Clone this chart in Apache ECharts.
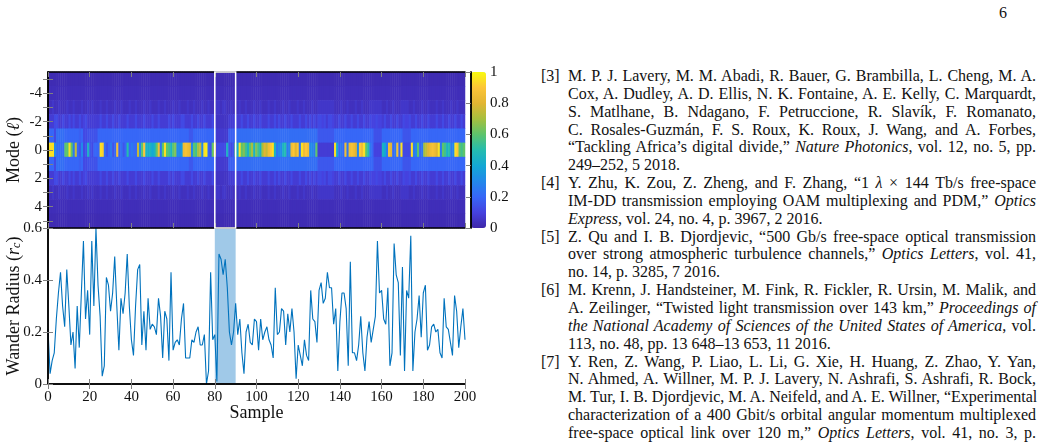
<!DOCTYPE html>
<html>
<head>
<meta charset="utf-8">
<script src="https://cdn.jsdelivr.net/npm/echarts@6/dist/echarts.min.js"></script>
<style>
  html, body { margin: 0; padding: 0; background: #fff; }
  #page { position: relative; width: 1043px; height: 446px; overflow: hidden; }
  #chart { position: absolute; left: 0; top: 0; width: 520px; height: 446px; }
  #refs { position: absolute; left: 541px; top: 67px; width: 495px; font-family: "Liberation Serif", serif; font-size: 16px; line-height: 17.85px; color: #111; }
  .ref { position: relative; padding-left: 27px; }
  .num { position: absolute; left: 0; top: 0; }
  .ln { text-align: justify; text-align-last: justify; white-space: nowrap; }
  .last { text-align: left; text-align-last: left; }
  #pnum { position: absolute; left: 999px; top: 4px; font-family: "Liberation Serif", serif; font-size: 16px; color: #111; }
</style>
</head>
<body>
<div id="page">
  <div id="chart"></div>
  <div id="pnum">6</div>
  <div id="refs">
    <div class="ref"><span class="num">[3]</span>
      <div class="ln">M. P. J. Lavery, M. M. Abadi, R. Bauer, G. Brambilla, L. Cheng, M. A.</div>
      <div class="ln">Cox, A. Dudley, A. D. Ellis, N. K. Fontaine, A. E. Kelly, C. Marquardt,</div>
      <div class="ln">S. Matlhane, B. Ndagano, F. Petruccione, R. Slavík, F. Romanato,</div>
      <div class="ln">C. Rosales-Guzmán, F. S. Roux, K. Roux, J. Wang, and A. Forbes,</div>
      <div class="ln">“Tackling Africa’s digital divide,” <i>Nature Photonics</i>, vol. 12, no. 5, pp.</div>
      <div class="ln last">249–252, 5 2018.</div>
    </div>
    <div class="ref"><span class="num">[4]</span>
      <div class="ln">Y. Zhu, K. Zou, Z. Zheng, and F. Zhang, “1 <i>λ</i> × 144 Tb/s free-space</div>
      <div class="ln">IM-DD transmission employing OAM multiplexing and PDM,” <i>Optics</i></div>
      <div class="ln last"><i>Express</i>, vol. 24, no. 4, p. 3967, 2 2016.</div>
    </div>
    <div class="ref"><span class="num">[5]</span>
      <div class="ln">Z. Qu and I. B. Djordjevic, “500 Gb/s free-space optical transmission</div>
      <div class="ln">over strong atmospheric turbulence channels,” <i>Optics Letters</i>, vol. 41,</div>
      <div class="ln last">no. 14, p. 3285, 7 2016.</div>
    </div>
    <div class="ref"><span class="num">[6]</span>
      <div class="ln">M. Krenn, J. Handsteiner, M. Fink, R. Fickler, R. Ursin, M. Malik, and</div>
      <div class="ln">A. Zeilinger, “Twisted light transmission over 143 km,” <i>Proceedings of</i></div>
      <div class="ln"><i>the National Academy of Sciences of the United States of America</i>, vol.</div>
      <div class="ln last">113, no. 48, pp. 13 648–13 653, 11 2016.</div>
    </div>
    <div class="ref"><span class="num">[7]</span>
      <div class="ln">Y. Ren, Z. Wang, P. Liao, L. Li, G. Xie, H. Huang, Z. Zhao, Y. Yan,</div>
      <div class="ln">N. Ahmed, A. Willner, M. P. J. Lavery, N. Ashrafi, S. Ashrafi, R. Bock,</div>
      <div class="ln">M. Tur, I. B. Djordjevic, M. A. Neifeld, and A. E. Willner, “Experimental</div>
      <div class="ln">characterization of a 400 Gbit/s orbital angular momentum multiplexed</div>
      <div class="ln">free-space optical link over 120 m,” <i>Optics Letters</i>, vol. 41, no. 3, p.</div>
    </div>
  </div>
</div>
<script>
// ---------------- DATA ----------------
const modeLabels = ['-5','-4','-3','-2','-1','0','1','2','3','4','5'];
const modeTickLabels = ['-4','-2','0','2','4'];
const xTickLabels = [0,20,40,60,80,100,120,140,160,180,200];
const radiusTickLabels = [0,0.2,0.4,0.6];
const colorbarTickLabels = [0,0.2,0.4,0.6,0.8,1];
const highlightRange = [80, 90];

// Wander radius (r_c) for samples 0..200
const wanderRadius = [
0.21,0.04,0.09,0.12,0.25,0.35,0.43,0.30,0.22,0.44,
0.30,0.15,0.20,0.06,0.30,0.14,0.35,0.55,0.25,0.36,
0.19,0.55,0.30,0.60,0.38,0.26,0.03,0.07,0.41,0.38,
0.28,0.35,0.49,0.30,0.13,0.33,0.27,0.35,0.50,0.30,
0.17,0.11,0.30,0.44,0.46,0.15,0.28,0.13,0.33,0.21,
0.23,0.22,0.19,0.33,0.26,0.10,0.28,0.25,0.09,0.43,
0.13,0.16,0.17,0.15,0.25,0.31,0.10,0.10,0.10,0.17,
0.16,0.20,0.22,0.15,0.15,0.19,0.00,0.05,0.43,0.17,
0.19,0.01,0.50,0.48,0.42,0.48,0.37,0.20,0.15,0.20,
0.31,0.19,0.25,0.12,0.04,0.20,0.23,0.16,0.15,0.25,
0.24,0.13,0.25,0.17,0.20,0.22,0.17,0.15,0.10,0.37,
0.19,0.20,0.29,0.28,0.15,0.27,0.20,0.29,0.20,0.02,
0.15,0.11,0.07,0.17,0.11,0.09,0.36,0.25,0.24,0.16,
0.36,0.39,0.31,0.33,0.43,0.37,0.37,0.23,0.29,0.05,
0.24,0.35,0.35,0.29,0.07,0.47,0.12,0.12,0.09,0.15,
0.26,0.12,0.05,0.18,0.24,0.16,0.21,0.26,0.55,0.35,
0.36,0.25,0.23,0.37,0.07,0.12,0.54,0.42,0.39,0.11,
0.45,0.05,0.36,0.33,0.57,0.05,0.20,0.25,0.34,0.18,
0.35,0.38,0.13,0.15,0.22,0.23,0.20,0.21,0.12,0.10,
0.33,0.22,0.21,0.16,0.11,0.34,0.28,0.14,0.22,0.29,
0.17
];

// Normalised power in mode 0 for samples 0..200
const powerMode0 = [
0.95,0.95,0.95,0.30,0.22,0.22,0.22,0.22,0.60,0.60,
0.95,0.60,0.25,0.75,0.20,0.15,0.30,0.12,0.15,0.45,
0.15,0.12,0.20,0.20,0.20,0.95,0.92,0.22,0.15,0.20,
0.25,0.15,0.20,0.85,0.18,0.22,0.15,0.20,0.50,0.20,
0.25,0.22,0.20,0.75,0.30,0.60,0.90,0.45,0.42,0.45,
0.40,0.45,0.60,0.85,0.25,0.60,0.95,0.60,0.55,0.45,
0.60,0.65,0.30,0.30,0.35,0.85,0.88,0.85,0.82,0.30,
0.60,0.55,0.70,0.75,0.30,0.95,0.98,0.20,0.15,0.60,
0.90,0.12,0.12,0.12,0.12,0.12,0.45,0.15,0.12,0.15,
0.60,0.40,0.95,0.60,0.65,0.55,0.45,0.60,0.70,0.45,
0.65,0.55,0.45,0.70,0.80,0.75,0.85,0.90,0.95,0.45,
0.25,0.30,0.30,0.45,0.50,0.25,0.30,0.85,0.90,0.80,
0.88,0.25,0.95,0.85,0.90,0.85,0.30,0.30,0.25,0.60,
0.08,0.08,0.08,0.08,0.08,0.08,0.08,0.08,0.95,0.40,
0.20,0.25,0.20,0.85,0.25,0.85,0.88,0.85,0.80,0.30,
0.90,0.85,0.95,0.60,0.50,0.25,0.20,0.10,0.10,0.10,
0.10,0.45,0.40,0.25,0.85,0.80,0.20,0.25,0.85,0.20,
0.95,0.12,0.12,0.12,0.12,0.95,0.25,0.30,0.60,0.20,
0.25,0.70,0.75,0.80,0.85,0.88,0.85,0.80,0.95,0.25,
0.60,0.55,0.45,0.50,0.25,0.30,0.95,0.90,0.60,0.55,
0.60
];

// Power in modes +/-1
const powerMode1 = [
0.20,0.20,0.20,0.12,0.22,0.22,0.22,0.22,0.20,0.20,
0.20,0.20,0.20,0.20,0.20,0.18,0.20,0.12,0.12,0.14,
0.14,0.14,0.14,0.14,0.20,0.20,0.20,0.20,0.20,0.20,
0.20,0.20,0.20,0.20,0.20,0.20,0.20,0.20,0.20,0.20,
0.20,0.20,0.20,0.20,0.20,0.20,0.20,0.20,0.20,0.20,
0.20,0.20,0.20,0.20,0.20,0.20,0.20,0.20,0.20,0.20,
0.20,0.20,0.20,0.20,0.20,0.20,0.20,0.20,0.16,0.16,
0.20,0.20,0.20,0.20,0.20,0.20,0.20,0.20,0.20,0.20,
0.20,0.07,0.07,0.07,0.07,0.07,0.07,0.18,0.18,0.18,
0.18,0.22,0.22,0.22,0.22,0.22,0.22,0.22,0.22,0.22,
0.22,0.22,0.22,0.22,0.22,0.22,0.22,0.22,0.22,0.22,
0.22,0.22,0.22,0.22,0.22,0.22,0.22,0.22,0.22,0.22,
0.22,0.22,0.22,0.22,0.22,0.22,0.22,0.22,0.22,0.22,
0.16,0.16,0.16,0.16,0.16,0.16,0.16,0.16,0.20,0.20,
0.20,0.20,0.20,0.20,0.20,0.20,0.20,0.20,0.20,0.20,
0.20,0.20,0.20,0.20,0.20,0.20,0.20,0.14,0.14,0.14,
0.14,0.20,0.20,0.20,0.20,0.20,0.20,0.20,0.20,0.20,
0.20,0.15,0.15,0.15,0.15,0.20,0.20,0.20,0.20,0.20,
0.20,0.20,0.20,0.20,0.20,0.20,0.20,0.20,0.20,0.20,
0.20,0.20,0.20,0.20,0.20,0.20,0.20,0.20,0.20,0.20,
0.20
];

// Power in modes +/-2
const powerMode2 = [
0.08,0.08,0.08,0.12,0.12,0.08,0.08,0.12,0.08,0.08,
0.12,0.08,0.12,0.08,0.08,0.12,0.08,0.10,0.12,0.08,
0.08,0.08,0.08,0.08,0.08,0.12,0.08,0.08,0.12,0.08,
0.08,0.12,0.08,0.08,0.12,0.08,0.08,0.08,0.12,0.08,
0.08,0.08,0.12,0.08,0.08,0.08,0.12,0.08,0.08,0.08,
0.12,0.08,0.08,0.12,0.08,0.08,0.08,0.08,0.12,0.08,
0.12,0.08,0.08,0.08,0.12,0.12,0.08,0.08,0.08,0.12,
0.08,0.08,0.12,0.08,0.08,0.12,0.08,0.08,0.08,0.12,
0.08,0.05,0.05,0.05,0.05,0.05,0.05,0.08,0.08,0.08,
0.12,0.08,0.08,0.12,0.08,0.08,0.12,0.08,0.08,0.12,
0.08,0.08,0.12,0.08,0.08,0.08,0.12,0.08,0.08,0.12,
0.08,0.12,0.08,0.08,0.12,0.08,0.08,0.12,0.08,0.08,
0.08,0.12,0.08,0.08,0.12,0.08,0.12,0.08,0.12,0.08,
0.12,0.12,0.10,0.12,0.08,0.12,0.12,0.10,0.08,0.08,
0.12,0.08,0.08,0.12,0.08,0.08,0.12,0.08,0.08,0.12,
0.08,0.08,0.12,0.08,0.08,0.12,0.10,0.10,0.12,0.10,
0.10,0.08,0.12,0.08,0.08,0.12,0.08,0.08,0.12,0.08,
0.08,0.12,0.10,0.10,0.12,0.08,0.08,0.12,0.08,0.08,
0.12,0.08,0.08,0.12,0.08,0.08,0.08,0.12,0.08,0.08,
0.12,0.08,0.08,0.12,0.08,0.08,0.12,0.08,0.08,0.12,
0.08
];

// Power in modes +/-3
const powerMode3 = [
0.04,0.04,0.06,0.04,0.04,0.06,0.04,0.04,0.04,0.06,
0.04,0.04,0.06,0.04,0.04,0.04,0.06,0.04,0.04,0.06,
0.04,0.06,0.04,0.04,0.04,0.06,0.04,0.04,0.06,0.04,
0.04,0.04,0.06,0.04,0.04,0.06,0.04,0.04,0.04,0.06,
0.04,0.04,0.06,0.04,0.04,0.04,0.06,0.04,0.04,0.06,
0.04,0.04,0.04,0.06,0.04,0.04,0.06,0.04,0.04,0.04,
0.06,0.04,0.04,0.06,0.04,0.04,0.04,0.06,0.04,0.04,
0.06,0.04,0.04,0.04,0.06,0.04,0.04,0.06,0.04,0.04,
0.04,0.06,0.06,0.04,0.06,0.06,0.04,0.04,0.06,0.04,
0.04,0.04,0.06,0.04,0.04,0.06,0.04,0.04,0.04,0.06,
0.04,0.04,0.06,0.04,0.04,0.04,0.06,0.04,0.04,0.06,
0.04,0.04,0.04,0.06,0.04,0.04,0.06,0.04,0.04,0.04,
0.06,0.04,0.04,0.06,0.04,0.04,0.04,0.06,0.04,0.04,
0.06,0.06,0.06,0.06,0.06,0.06,0.06,0.06,0.04,0.04,
0.04,0.06,0.04,0.04,0.06,0.04,0.04,0.04,0.06,0.04,
0.04,0.06,0.04,0.04,0.04,0.06,0.06,0.06,0.06,0.06,
0.06,0.04,0.04,0.06,0.04,0.04,0.06,0.04,0.04,0.04,
0.06,0.06,0.06,0.06,0.04,0.04,0.06,0.04,0.04,0.04,
0.06,0.04,0.04,0.06,0.04,0.04,0.04,0.06,0.04,0.04,
0.06,0.04,0.04,0.04,0.06,0.04,0.04,0.06,0.04,0.04,
0.04
];

const powerMode4 = 0.03;
const powerMode5 = 0.02;

// ---------------- BUILD ----------------
const sampleCats = wanderRadius.map((v, i) => String(i));
const rowsByAbsMode = [powerMode0, powerMode1, powerMode2, powerMode3];
const heatData = [];
modeLabels.forEach((lab, yi) => {
  const m = Math.abs(parseInt(lab, 10));
  sampleCats.forEach((c, xi) => {
    let v;
    if (m <= 3) v = rowsByAbsMode[m][xi];
    else if (m === 4) v = powerMode4;
    else v = powerMode5;
    heatData.push([xi, yi, v]);
  });
});
const lineData = wanderRadius.map((v, i) => [i, v]);

const parula = ['#3e26a8','#4542df','#3767f7','#2289ea','#13a8d4','#25bcae','#5dc46c','#a6bf3e','#e2b532','#fcc537','#f9fb0e'];

const FONT = 'Liberation Serif';
const tickStyle = { show: true, inside: true, length: 5, lineStyle: { color: '#808080', width: 1 } };
const lineStyleAxis = { show: true, lineStyle: { color: '#000', width: 1.5 } };
const labelStyle = { fontFamily: FONT, fontSize: 15, color: '#111' };

const gridBase = { show: false, containLabel: false, outerBoundsMode: 'none' };
const G0 = Object.assign({ left: 48, top: 72, width: 417, height: 156 }, gridBase);
const G1 = Object.assign({ left: 48, top: 228, width: 417, height: 156 }, gridBase);
const G2 = Object.assign({ left: 471, top: 72, width: 15, height: 156 }, gridBase);

const chart = echarts.init(document.getElementById('chart'), null, { renderer: 'canvas' });
chart.setOption({
  animation: false,
  textStyle: { fontFamily: FONT },
  grid: [G0, G1, G2],
  visualMap: {
    type: 'continuous', min: 0, max: 1, seriesIndex: 0, dimension: 2,
    inRange: { color: parula },
    orient: 'vertical', left: G2.left, top: G2.top,
    itemWidth: G2.width, itemHeight: G2.height,
    calculable: false, hoverLink: false, padding: 0, showLabel: false, text: null,
    itemGap: 0
  },
  xAxis: [
    { gridIndex: 0, type: 'category', data: sampleCats, show: false },
    { gridIndex: 0, type: 'value', position: 'top', min: 0, max: 200, interval: 20, z: 5,
      axisLine: lineStyleAxis, axisTick: tickStyle, axisLabel: { show: false }, splitLine: { show: false } },
    { gridIndex: 0, type: 'value', position: 'bottom', min: 0, max: 200, interval: 20, z: 5,
      axisLine: lineStyleAxis, axisTick: tickStyle, axisLabel: { show: false }, splitLine: { show: false } },
    { gridIndex: 1, type: 'value', position: 'bottom', min: 0, max: 200, interval: 20, z: 5,
      axisLine: lineStyleAxis, axisTick: tickStyle,
      axisLabel: Object.assign({ margin: 6, customValues: xTickLabels }, labelStyle),
      splitLine: { show: false },
      name: 'Sample', nameLocation: 'middle', nameGap: 20, nameMoveOverlap: false,
      nameTextStyle: { fontFamily: FONT, fontSize: 18, color: '#111' } },
    { gridIndex: 1, type: 'value', position: 'top', min: 0, max: 200, interval: 20, z: 5,
      axisLine: lineStyleAxis, axisTick: tickStyle, axisLabel: { show: false }, splitLine: { show: false } },
    { gridIndex: 2, type: 'value', min: 0, max: 1, show: false }
  ],
  yAxis: [
    { gridIndex: 0, type: 'category', data: modeLabels, inverse: true, position: 'left', z: 5,
      axisLine: lineStyleAxis,
      axisTick: Object.assign({}, tickStyle, { alignWithLabel: true, interval: 0 }),
      axisLabel: Object.assign({ interval: 0, margin: 6, formatter: v => modeTickLabels.includes(v) ? v : '' }, labelStyle),
      name: '{n|Mode (}{i|ℓ}{n|)}', nameLocation: 'middle', nameGap: 25, nameRotate: 90, nameMoveOverlap: false,
      nameTextStyle: { rich: { n: { fontFamily: FONT, fontSize: 18, color: '#111' }, i: { fontFamily: FONT, fontSize: 18, fontStyle: 'italic', color: '#111' } } } },
    { gridIndex: 0, type: 'category', data: modeLabels, inverse: true, position: 'right', z: 5,
      axisLine: lineStyleAxis,
      axisTick: Object.assign({}, tickStyle, { alignWithLabel: true, interval: 0 }),
      axisLabel: { show: false } },
    { gridIndex: 1, type: 'value', position: 'left', min: 0, max: 0.6, interval: 0.2, z: 5,
      axisLine: lineStyleAxis, axisTick: tickStyle,
      axisLabel: Object.assign({ margin: 6, customValues: radiusTickLabels }, labelStyle),
      splitLine: { show: false },
      name: '{n|Wander Radius (}{i|r}{s|c}{n|)}', nameLocation: 'middle', nameGap: 25, nameRotate: 90, nameMoveOverlap: false,
      nameTextStyle: { rich: {
        n: { fontFamily: FONT, fontSize: 18, color: '#111' },
        i: { fontFamily: FONT, fontSize: 18, fontStyle: 'italic', color: '#111' },
        s: { fontFamily: FONT, fontSize: 12, fontStyle: 'italic', color: '#111', padding: [6, 0, 0, 0] } } } },
    { gridIndex: 1, type: 'value', position: 'right', min: 0, max: 0.6, interval: 0.2, z: 5,
      axisLine: lineStyleAxis, axisTick: tickStyle, axisLabel: { show: false }, splitLine: { show: false } },
    { gridIndex: 2, type: 'value', position: 'right', min: 0, max: 1, interval: 0.2, z: 5,
      axisLine: lineStyleAxis, axisTick: tickStyle,
      axisLabel: Object.assign({ margin: 4, customValues: colorbarTickLabels }, labelStyle),
      splitLine: { show: false } },
    { gridIndex: 2, type: 'value', position: 'left', min: 0, max: 1, z: 5,
      axisLine: lineStyleAxis, axisTick: { show: false }, axisLabel: { show: false }, splitLine: { show: false } }
  ],
  series: [
    {
      type: 'heatmap', xAxisIndex: 0, yAxisIndex: 0, data: heatData,
      emphasis: { disabled: true }, silent: true, progressive: 0
    },
    {
      type: 'line', xAxisIndex: 3, yAxisIndex: 2, data: lineData,
      showSymbol: false, symbol: 'none', silent: true,
      lineStyle: { color: '#0072bd', width: 1.1 },
      markArea: {
        silent: true,
        itemStyle: { color: '#a0c9e8' },
        data: [[{ xAxis: highlightRange[0] }, { xAxis: highlightRange[1] }]]
      }
    },
    { type: 'line', xAxisIndex: 5, yAxisIndex: 4, data: [], silent: true },
    {
      type: 'line', xAxisIndex: 1, yAxisIndex: 0, data: [], silent: true, z: 10,
      markArea: {
        silent: true, z: 10,
        itemStyle: { color: 'rgba(0,0,0,0)', borderColor: '#ffffff', borderWidth: 1.5 },
        data: [[{ xAxis: highlightRange[0] }, { xAxis: highlightRange[1] }]]
      }
    }
  ]
});
</script>
</body>
</html>
